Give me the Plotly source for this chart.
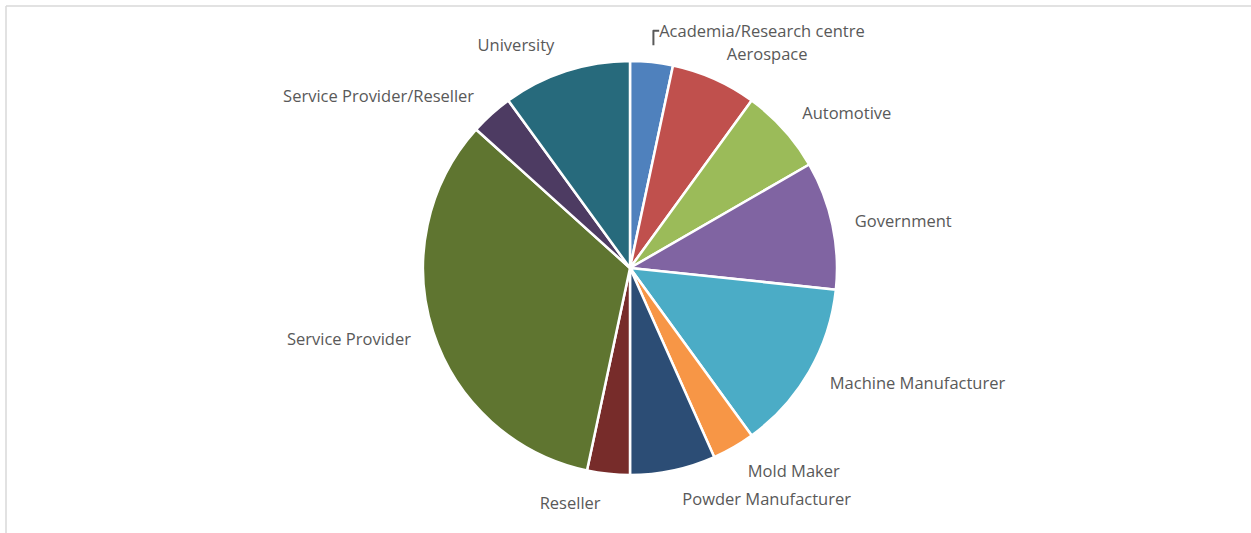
import plotly.graph_objects as go

# Respondents by organisation type (count of responses)
categories = [
    "Academia/Research centre", "Aerospace", "Automotive", "Government",
    "Machine Manufacturer", "Mold Maker", "Powder Manufacturer", "Reseller",
    "Service Provider", "Service Provider/Reseller", "University",
]
counts = [1, 2, 2, 3, 4, 1, 2, 1, 10, 1, 3]
colors = [
    "#4F81BD", "#C0504D", "#9BBB59", "#8064A2", "#4BACC6", "#F79646",
    "#2C4D75", "#772C2A", "#5F7530", "#4D3B62", "#276A7C",
]

W, H = 1251, 533
cx, cy = 630, 268
r_pie = 207      # radius of the coloured pie
r_lab = 224      # slightly wider ring that carries the outside labels


def domain(r):
    return dict(x=[(cx - r) / W, (cx + r) / W],
                y=[(H - cy - r) / H, (H - cy + r) / H])


fig = go.Figure()

# transparent ring used only to place the category labels a bit further out
fig.add_trace(go.Pie(
    labels=categories,
    values=counts,
    sort=False,
    direction="clockwise",
    rotation=0,
    marker=dict(colors=["rgba(0,0,0,0)"] * len(categories),
                line=dict(width=0)),
    textinfo="label",
    textposition="outside",
    outsidetextfont=dict(family="Open Sans", size=16.5, color="#595959"),
    showlegend=False,
    hoverinfo="skip",
    domain=domain(r_lab),
))

# the pie itself
fig.add_trace(go.Pie(
    labels=categories,
    values=counts,
    sort=False,
    direction="clockwise",
    rotation=0,
    marker=dict(colors=colors, line=dict(color="white", width=2.5)),
    textinfo="none",
    showlegend=False,
    hoverinfo="label+value+percent",
    domain=domain(r_pie),
))

# light frame around the chart area
frame = dict(color="#d9d9d9", width=1.5)
fig.add_shape(type="line", xref="paper", yref="paper",
              x0=6 / W, x1=1, y0=1 - 6 / H, y1=1 - 6 / H, line=frame)
fig.add_shape(type="line", xref="paper", yref="paper",
              x0=6 / W, x1=6 / W, y0=0, y1=1 - 6 / H, line=frame)

fig.update_layout(
    width=W, height=H,
    margin=dict(l=0, r=0, t=0, b=0),
    paper_bgcolor="white",
    plot_bgcolor="white",
)

fig.write_html("out.html")
